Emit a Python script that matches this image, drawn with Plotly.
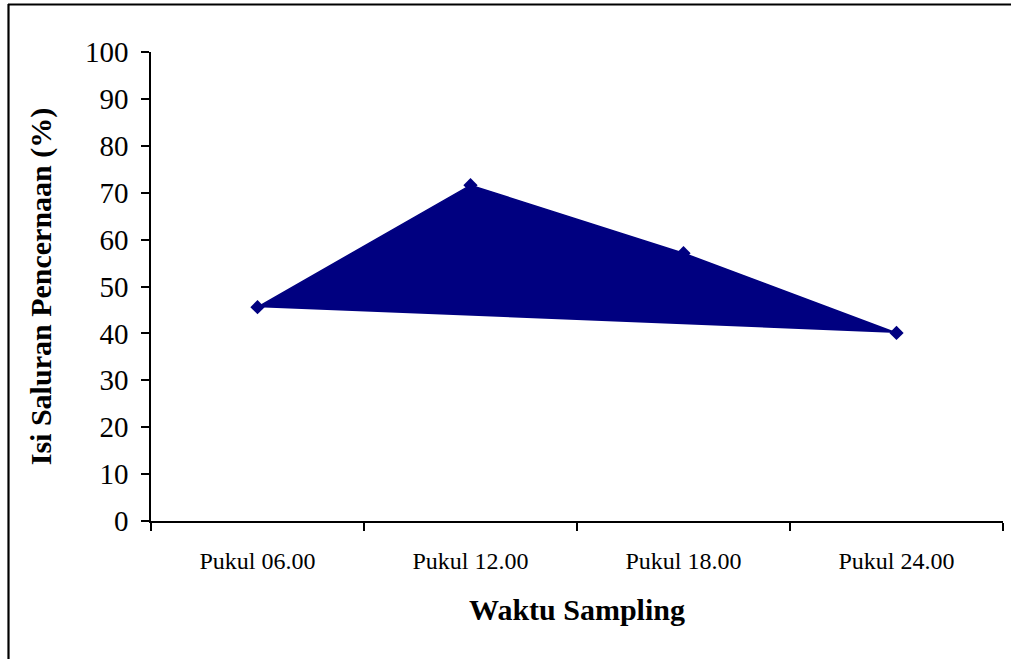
import plotly.graph_objects as go

categories = ["Pukul 06.00", "Pukul 12.00", "Pukul 18.00", "Pukul 24.00"]
values = [45.6, 71.6, 57.1, 40.1]
y_ticks = [0, 10, 20, 30, 40, 50, 60, 70, 80, 90, 100]

NAVY = "#000080"
FONT = "Liberation Serif"
W, H = 1011, 659
L, R, T, B = 151, 8, 52, 138
PW, PH = W - L - R, H - T - B


def px_x(x):
    return (x - L) / PW


def px_y(y):
    return (H - B - y) / PH


fig = go.Figure()
fig.add_trace(go.Scatter(
    x=categories, y=values, mode="lines+markers", fill="toself",
    fillcolor=NAVY, line=dict(color=NAVY, width=1.5),
    marker=dict(symbol="diamond", size=11, color=NAVY),
    showlegend=False,
))

fig.update_layout(
    width=W, height=H,
    margin=dict(l=L, r=R, t=T, b=B),
    paper_bgcolor="white", plot_bgcolor="white",
    font=dict(family=FONT, color="black"),
    xaxis=dict(
        type="category", range=[-0.5, 3.5], tickson="boundaries",
        ticks="outside", ticklen=8, tickwidth=1.5, tickcolor="black",
        showline=True, linecolor="black", linewidth=1.5,
        showgrid=False, zeroline=False,
        tickfont=dict(family=FONT, size=24),
        ticklabelstandoff=17,
        title=dict(text="<b>Waktu Sampling</b>", font=dict(family=FONT, size=30), standoff=26),
    ),
    yaxis=dict(
        range=[0, 100], tickvals=y_ticks,
        ticks="outside", ticklen=8, tickwidth=1.5, tickcolor="black",
        showline=True, linecolor="black", linewidth=1.5,
        showgrid=False, zeroline=False,
        tickfont=dict(family=FONT, size=29),
        ticklabelstandoff=7,
        title=dict(text="<b>Isi Saluran Pencernaan (%)</b>", font=dict(family=FONT, size=30), standoff=24),
    ),
)

# outer frame (top and left edges visible in the reference)
fig.add_shape(type="line", xref="paper", yref="paper",
              x0=px_x(8), x1=px_x(1015), y0=px_y(4.5), y1=px_y(4.5),
              line=dict(color="black", width=2.2))
fig.add_shape(type="line", xref="paper", yref="paper",
              x0=px_x(8.5), x1=px_x(8.5), y0=px_y(4), y1=px_y(665),
              line=dict(color="black", width=2.2))

fig.write_html("out.html", config={"displayModeBar": False},
               post_script="document.body.style.margin='0';document.body.style.overflow='hidden';")
